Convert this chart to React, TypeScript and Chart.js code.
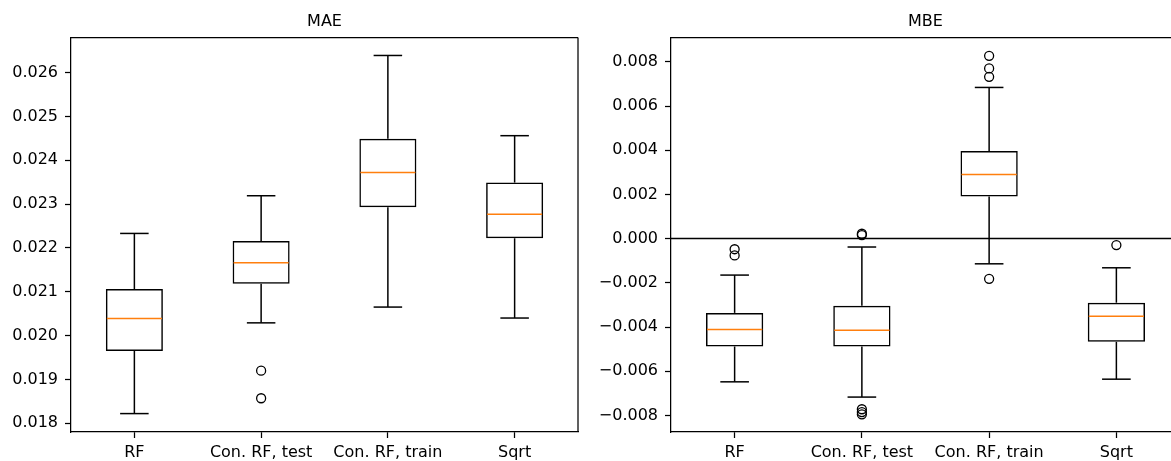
import React, { useEffect, useRef } from 'react';
import { Chart, registerables } from 'chart.js';

Chart.register(...registerables);
Chart.defaults.font.family = "'DejaVu Sans', sans-serif";
Chart.defaults.font.size = 16;
Chart.defaults.color = '#000';

// ---------- data ----------
const categories = ['RF', 'Con. RF, test', 'Con. RF, train', 'Sqrt'];

// MAE panel
const maeWhiskerLow = [0.01822, 0.02029, 0.02065, 0.0204];
const maeQ1 = [0.01965, 0.02118, 0.02293, 0.02222];
const maeMedian = [0.02039, 0.02166, 0.02372, 0.02277];
const maeQ3 = [0.02106, 0.02216, 0.02449, 0.02349];
const maeWhiskerHigh = [0.02233, 0.02319, 0.02639, 0.02456];
const maeOutliers: number[][] = [[], [0.0192, 0.01857], [], []];
const maeTicks = [0.018, 0.019, 0.02, 0.021, 0.022, 0.023, 0.024, 0.025, 0.026];
const maeRange = [0.0178, 0.0268];

// MBE panel
const mbeWhiskerLow = [-0.00648, -0.00717, -0.00114, -0.00636];
const mbeQ1 = [-0.00488, -0.00488, 0.00191, -0.00467];
const mbeMedian = [-0.00411, -0.00415, 0.0029, -0.00351];
const mbeQ3 = [-0.00336, -0.00304, 0.00397, -0.0029];
const mbeWhiskerHigh = [-0.00165, -0.00038, 0.00684, -0.00132];
const mbeOutliers: number[][] = [
  [-0.00048, -0.00076],
  [0.00022, 0.00016, -0.00772, -0.00785, -0.00795],
  [0.00827, 0.0077, 0.00732, -0.00182],
  [-0.00029],
];
const mbeTicks = [-0.008, -0.006, -0.004, -0.002, 0, 0.002, 0.004, 0.006, 0.008];
const mbeRange = [-0.00875, 0.0091];

const BOX_WIDTH = 0.45;

type Stats = {
  low: number[];
  q1: number[];
  med: number[];
  q3: number[];
  high: number[];
  out: number[][];
};

const fmt = (v: number) => {
  if (Math.abs(v) < 1e-12) return '0.000';
  return v.toFixed(3).replace('-', '\u2212');
};

function makePlugin(s: Stats, zeroLine: boolean) {
  return {
    id: 'boxExtras',
    afterDatasetsDraw(chart: any) {
      const { ctx, chartArea: a, scales } = chart;
      const x = scales.x;
      const y = scales.y;
      const unit = x.getPixelForValue(1) - x.getPixelForValue(0);
      const boxHalf = (unit * BOX_WIDTH) / 2;
      const capHalf = boxHalf / 2;
      const line = (x1: number, y1: number, x2: number, y2: number) => {
        ctx.beginPath();
        ctx.moveTo(x1, y1);
        ctx.lineTo(x2, y2);
        ctx.stroke();
      };
      ctx.save();
      ctx.lineWidth = 1.5;
      s.med.forEach((m, i) => {
        const cx = x.getPixelForValue(i);
        ctx.strokeStyle = '#000';
        line(cx, y.getPixelForValue(s.q3[i]), cx, y.getPixelForValue(s.high[i]));
        line(cx, y.getPixelForValue(s.q1[i]), cx, y.getPixelForValue(s.low[i]));
        line(cx - capHalf, y.getPixelForValue(s.high[i]), cx + capHalf, y.getPixelForValue(s.high[i]));
        line(cx - capHalf, y.getPixelForValue(s.low[i]), cx + capHalf, y.getPixelForValue(s.low[i]));
        ctx.strokeStyle = '#ff7f0e';
        line(cx - boxHalf + 1, y.getPixelForValue(m), cx + boxHalf - 1, y.getPixelForValue(m));
      });
      ctx.strokeStyle = '#000';
      if (zeroLine) {
        const y0 = y.getPixelForValue(0);
        line(a.left, y0, a.right, y0);
      }
      ctx.lineWidth = 1.25;
      line(a.left, a.top, a.right, a.top);
      line(a.right, a.top, a.right, a.bottom);
      ctx.restore();
    },
  };
}

function makeConfig(
  title: string,
  s: Stats,
  range: number[],
  ticks: number[],
  yAxisWidth: number,
  rightPad: number,
  zeroLine: boolean
): any {
  const outlierPoints: { x: string; y: number }[] = [];
  s.out.forEach((arr, i) => arr.forEach((v) => outlierPoints.push({ x: categories[i], y: v })));
  return {
    type: 'bar',
    data: {
      labels: categories,
      datasets: [
        {
          type: 'scatter',
          data: outlierPoints,
          pointRadius: 4.5,
          pointBorderWidth: 1.3,
          pointBorderColor: '#000',
          pointBackgroundColor: 'rgba(0,0,0,0)',
          showLine: false,
        },
        {
          type: 'bar',
          data: s.q1.map((q, i) => [q, s.q3[i]]),
          backgroundColor: 'rgba(0,0,0,0)',
          borderColor: '#000',
          borderWidth: 1.5,
          borderSkipped: false,
          barPercentage: BOX_WIDTH,
          categoryPercentage: 1,
        },
      ],
    },
    options: {
      responsive: false,
      animation: false,
      events: [],
      layout: { padding: { left: 0, right: rightPad, top: 0, bottom: 0 } },
      plugins: {
        legend: { display: false },
        tooltip: { enabled: false },
        title: {
          display: true,
          text: title,
          fullSize: false,
          color: '#000',
          font: { size: 16, weight: 'normal' },
          padding: { top: 12, bottom: 6.3 },
        },
      },
      scales: {
        x: {
          type: 'category',
          offset: true,
          afterFit: (sc: any) => {
            sc.height = 29;
          },
          ticks: { font: { size: 16 }, padding: 5, color: '#000', maxRotation: 0, autoSkip: false },
          grid: { offset: false, drawOnChartArea: false, tickLength: 6, tickColor: '#000', tickWidth: 1.25 },
          border: { display: true, color: '#000', width: 1.25 },
        },
        y: {
          type: 'linear',
          min: range[0],
          max: range[1],
          afterBuildTicks: (sc: any) => {
            sc.ticks = ticks.map((v) => ({ value: v }));
          },
          afterFit: (sc: any) => {
            sc.width = yAxisWidth;
          },
          ticks: { callback: (v: number) => fmt(v), font: { size: 16 }, padding: 7, color: '#000' },
          grid: { drawOnChartArea: false, tickLength: 6, tickColor: '#000', tickWidth: 1.25 },
          border: { display: true, color: '#000', width: 1.25 },
        },
      },
    },
    plugins: [makePlugin(s, zeroLine)],
  };
}

const maeStats: Stats = {
  low: maeWhiskerLow,
  q1: maeQ1,
  med: maeMedian,
  q3: maeQ3,
  high: maeWhiskerHigh,
  out: maeOutliers,
};
const mbeStats: Stats = {
  low: mbeWhiskerLow,
  q1: mbeQ1,
  med: mbeMedian,
  q3: mbeQ3,
  high: mbeWhiskerHigh,
  out: mbeOutliers,
};

function Panel({ left, width, build }: { left: number; width: number; build: () => any }) {
  const ref = useRef<HTMLCanvasElement>(null);
  useEffect(() => {
    const chart = new Chart(ref.current as HTMLCanvasElement, build());
    return () => chart.destroy();
  }, []);
  return (
    <div style={{ position: 'fixed', left, top: 0, width, height: 461 }}>
      <canvas ref={ref} width={width} height={461} style={{ display: 'block', width, height: 461 }} />
    </div>
  );
}

export default function App() {
  return (
    <div>
      <Panel
        left={0}
        width={620}
        build={() => makeConfig('MAE', maeStats, maeRange, maeTicks, 71, 42, false)}
      />
      <Panel
        left={590}
        width={600}
        build={() => makeConfig('MBE', mbeStats, mbeRange, mbeTicks, 81, 10, true)}
      />
    </div>
  );
}
